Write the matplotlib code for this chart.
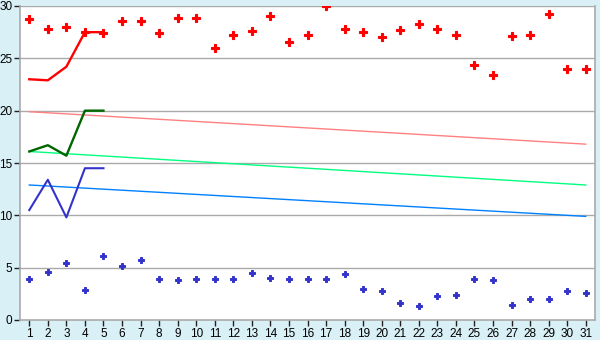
import matplotlib
matplotlib.use("Agg")
import matplotlib.pyplot as plt

days = list(range(1, 32))
red_pts = [28.8, 27.8, 28.0, 27.5, 27.4, 28.6, 28.6, 27.4, 28.9, 28.9,
           26.0, 27.2, 27.6, 29.0, 26.6, 27.2, 30.0, 27.8, 27.5, 27.0,
           27.7, 28.3, 27.8, 27.2, 24.4, 23.4, 27.1, 27.2, 29.2, 24.0, 24.0]
blue_pts = [3.87, 4.54, 5.4, 2.83, 6.16, 5.2, 5.78, 3.87, 3.78, 3.87,
            3.87, 3.87, 4.45, 3.97, 3.87, 3.87, 3.87, 4.35, 2.92, 2.73,
            1.59, 1.3, 2.26, 2.35, 3.87, 3.78, 1.4, 1.97, 1.97, 2.73, 2.54]

line_days = [1, 2, 3, 4, 5]
red_line = [23.0, 22.9, 24.2, 27.5, 27.5]
green_line = [16.1, 16.7, 15.7, 20.0, 20.0]
blue_line = [10.5, 13.4, 9.8, 14.5, 14.5]

trend_days = [1, 31]
pink_trend = [19.9, 16.8]
lgreen_trend = [16.1, 12.9]
lblue_trend = [12.9, 9.9]

bg = "#d9f0f7"
grid = "#aaaaaa"

plt.rcParams["font.family"] = ["Liberation Sans", "DejaVu Sans"]

fig = plt.figure(figsize=(6, 3.4), dpi=100, facecolor=bg)
ax = fig.add_axes([20/600, 20/340, 575/600, 314/340])
ax.set_facecolor("white")

for y in range(5, 31, 5):
    ax.axhline(y, color=grid, lw=1, zorder=1)

ax.plot(trend_days, pink_trend, color="#ff8080", lw=1, zorder=2)
ax.plot(trend_days, lgreen_trend, color="#00ff80", lw=1, zorder=2)
ax.plot(trend_days, lblue_trend, color="#0080ff", lw=1, zorder=2)

ax.plot(line_days, red_line, color="#ff0000", lw=1.7, zorder=3)
ax.plot(line_days, green_line, color="#006600", lw=1.7, zorder=3)
ax.plot(line_days, blue_line, color="#3333cc", lw=1.5, zorder=3)

ax.plot(days, red_pts, ls="none", marker="P", ms=5.5, color="#ff0000",
        mec="#ff0000", mew=0.8, zorder=4)
ax.plot(days, blue_pts, ls="none", marker="P", ms=5, color="#3333cc",
        mec="#3333cc", mew=0.7, zorder=4)

ax.set_xlim(0.5, 31.5)
ax.set_ylim(0, 30)
ax.set_xticks(days)
ax.set_xticklabels([str(d) for d in days])
ax.set_yticks(range(0, 31, 5))

for s in ["left", "bottom", "right"]:
    ax.spines[s].set_color(grid)
    ax.spines[s].set_linewidth(1.2)
ax.spines["top"].set_visible(False)
ax.tick_params(axis="both", colors="black", labelsize=8.5, length=4, width=1, pad=1.5)
ax.tick_params(axis="x", color="#222222")
ax.tick_params(axis="y", color="#222222")

fig.savefig("out.png", dpi=100, facecolor=bg)
